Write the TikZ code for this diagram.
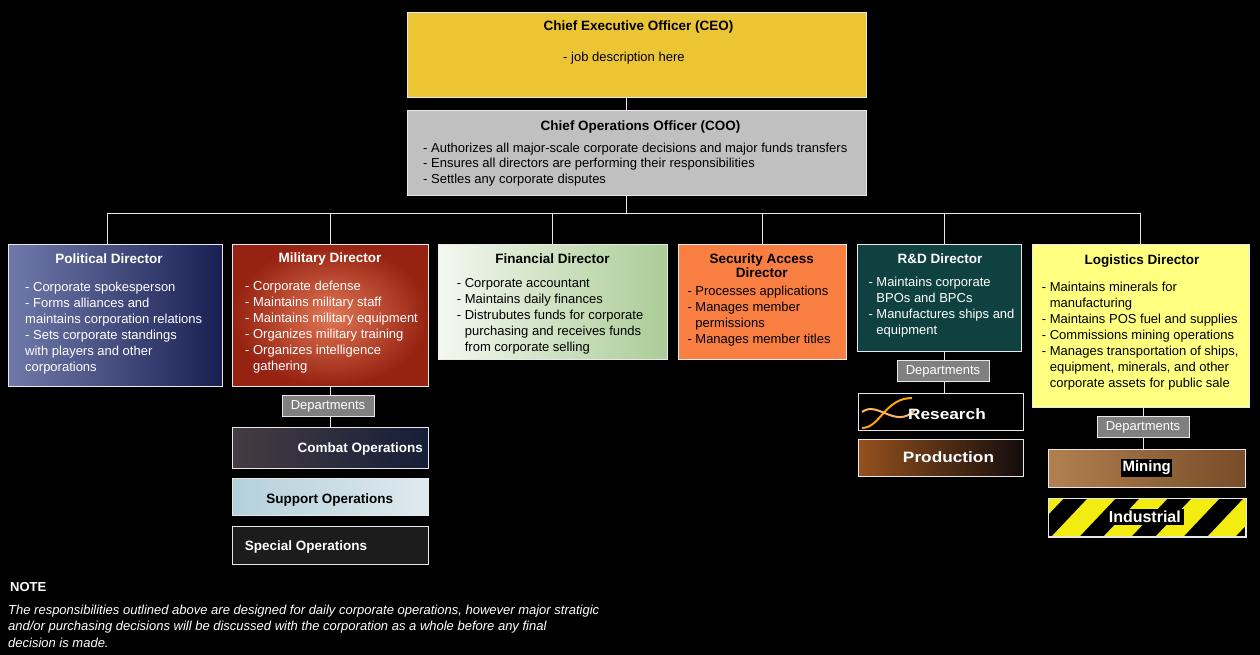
\documentclass[tikz,border=0pt]{standalone}
\usepackage{fontspec}
\setmainfont{Liberation Sans}
\definecolor{edge}{HTML}{E8E8E8}
\definecolor{ceoY}{HTML}{ECC535}
\definecolor{cooG}{HTML}{C0C0C0}
\definecolor{secO}{HTML}{F97E42}
\definecolor{rdT}{HTML}{0F4141}
\definecolor{logY}{HTML}{FFFF80}
\definecolor{deptG}{HTML}{808080}
\definecolor{stripeY}{HTML}{F2EC10}
\begin{document}
\begin{tikzpicture}[x=1pt,y=-1pt,
  box/.style={draw=edge, line width=1pt, inner sep=0pt, anchor=north west},
  ttl/.style={font=\fontsize{13.5}{15}\selectfont\bfseries, inner sep=0pt, anchor=base},
  body/.style={font=\fontsize{13}{16}\selectfont, align=left, anchor=north west, inner sep=0pt},
  wire/.style={draw=edge, line width=1pt},
  deptbox/.style={draw=edge, line width=1pt, fill=deptG, text=white, inner sep=0pt,
    font=\fontsize{13}{15}\selectfont, minimum width=92pt, minimum height=21pt},
  unitlbl/.style={font=\fontsize{13.5}{15}\selectfont\bfseries, inner sep=0pt, anchor=base},
  biglbl/.style={font=\fontsize{15}{17}\selectfont\bfseries, inner sep=0pt, anchor=base, text=white}]
\useasboundingbox (0,0) rectangle (1260,655);
\fill[black] (0,0) rectangle (1260,655);

% ---------- top boxes
\node[box, fill=ceoY, minimum width=459pt, minimum height=85pt] (ceo) at (407,12) {};
\node[box, fill=cooG, minimum width=459pt, minimum height=85pt] (coo) at (407,110) {};

% ---------- directors
\node[box, minimum width=214pt, minimum height=142pt, left color={rgb,255:red,112;green,122;blue,170}, middle color={rgb,255:red,60;green,70;blue,122}, right color={rgb,255:red,24;green,32;blue,82}] (pol) at (8,244) {};
\node[box, minimum width=196pt, minimum height=142pt, inner color={rgb,255:red,226;green,118;blue,84}, outer color={rgb,255:red,150;green,34;blue,18}] (mil) at (232,244) {};
\node[box, minimum width=229pt, minimum height=115pt, left color={rgb,255:red,244;green,248;blue,240}, middle color={rgb,255:red,228;green,238;blue,220}, right color={rgb,255:red,170;green,204;blue,150}] (fin) at (438,244) {};
\node[box, fill=secO, minimum width=168pt, minimum height=115pt] (sec) at (678,244) {};
\node[box, fill=rdT, minimum width=164pt, minimum height=107pt] (rd) at (857,244) {};
\node[box, fill=logY, minimum width=217pt, minimum height=163pt] (log) at (1032,244) {};

% ---------- departments
\node[deptbox] (mdep) at (328,406) {Departments};
\node[box, minimum width=196pt, minimum height=41pt, left color={rgb,255:red,70;green,60;blue,66}, right color={rgb,255:red,22;green,30;blue,56}] (combat) at (232,427) {};
\node[box, minimum width=196pt, minimum height=37pt, left color={rgb,255:red,180;green,208;blue,220}, right color={rgb,255:red,222;green,234;blue,238}] (support) at (232,478) {};
\node[box, minimum width=196pt, minimum height=38pt, fill={rgb,255:red,28;green,28;blue,28}] (special) at (232,526) {};

\node[deptbox] (rdep) at (943,371) {Departments};
\node[box, minimum width=165pt, minimum height=37pt, fill=black] (research) at (858,393) {};
\node[box, minimum width=165pt, minimum height=37pt, left color={rgb,255:red,150;green,80;blue,30}, middle color={rgb,255:red,26;green,16;blue,16}, right color={rgb,255:red,18;green,12;blue,12}] (production) at (858,439) {};

\node[deptbox] (ldep) at (1143,427) {Departments};
\node[box, minimum width=197pt, minimum height=38pt, left color={rgb,255:red,178;green,128;blue,80}, middle color={rgb,255:red,150;green,100;blue,56}, right color={rgb,255:red,120;green,76;blue,40}] (mining) at (1048,449) {};
\node[box, minimum width=197pt, minimum height=38pt, fill=black] (industrial) at (1048,498) {};
\begin{scope}
  \clip (industrial.south west) rectangle (industrial.north east);
  \foreach \i in {0,...,5} {
    \fill[stripeY] ({1000+\i*52},536) -- ++(28,0) -- ++(36,-38) -- ++(-28,0) -- cycle;
  }
\end{scope}
\draw[edge, line width=1pt] (industrial.south west) rectangle (industrial.north east);

% DNA hint in research
\draw[orange!70!yellow, line width=2pt] (862,428) .. controls (880,428) and (885,398) .. (912,398);
\draw[orange!60!white, line width=2pt] (862,412) .. controls (878,400) and (895,430) .. (915,410);

% ---------- connectors
\coordinate (bus) at (626,213);
\coordinate (tPol) at (107,213);
\coordinate (tMil) at (330,213);
\coordinate (tFin) at (552,213);
\coordinate (tSec) at (762,213);
\coordinate (tRd)  at (944,213);
\coordinate (tLog) at (1140,213);
\draw[wire] (ceo.south -| bus) -- (coo.north -| bus);
\draw[wire] (coo.south -| bus) -- (bus);
\draw[wire] (tPol) -- (tLog);
\draw[wire] (tPol) -- (tPol |- pol.north);
\draw[wire] (tMil) -- (tMil |- mil.north);
\draw[wire] (tFin) -- (tFin |- fin.north);
\draw[wire] (tSec) -- (tSec |- sec.north);
\draw[wire] (tRd) -- (tRd |- rd.north);
\draw[wire] (tLog) -- (tLog |- log.north);
\draw[wire] (mil.south) -- (mil.south |- mdep.north);
\draw[wire] (mil.south |- mdep.south) -- (combat.north);
\draw[wire] (rd.south -| tRd) -- (rdep.north -| tRd);
\draw[wire] (rdep.south -| tRd) -- (research.north -| tRd);
\draw[wire] (log.south -| ldep) -- (ldep.north);
\draw[wire] (ldep.south) -- (mining.north -| ldep);

% ---------- texts
\node[ttl] (ceoT) at (638.5,30.5) {Chief Executive Officer (CEO)};
\node[font=\fontsize{13}{15}\selectfont, inner sep=0pt, anchor=base west] (ceoB) at (563,62) {- job description here};

\node[ttl] (cooT) at (640.5,130.5) {Chief Operations Officer (COO)};
\node[body] (cooB) at (423,140.6) {\strut- Authorizes all major-scale corporate decisions and major funds transfers\\- Ensures all directors are performing their responsibilities\\- Settles any corporate disputes};

\node[ttl, text=white] (polT) at (109,263.8) {Political Director};
\node[body, text=white] (polB) at (25,280) {\strut- Corporate spokesperson\\- Forms alliances and\\maintains corporation relations\\- Sets corporate standings\\with players and other\\corporations};

\node[ttl, text=white] (milT) at (330,262.2) {Military Director};
\node[body, text=white] (milB) at (245,279) {\strut- Corporate defense\\- Maintains military staff\\- Maintains military equipment\\- Organizes military training\\- Organizes intelligence\\\phantom{- }gathering};

\node[ttl] (finT) at (552.5,263.5) {Financial Director};
\node[body] (finB) at (456.7,276) {\strut- Corporate accountant\\- Maintains daily finances\\- Distrubutes funds for corporate\\\phantom{- }purchasing and receives funds\\\phantom{- }from corporate selling};

\node[ttl] (secT1) at (761.7,263.5) {Security Access};
\node[ttl] (secT2) at (761.7,277.8) {Director};
\node[body] (secB) at (687.3,284) {\strut- Processes applications\\- Manages member\\\phantom{- }permissions\\- Manages member titles};

\node[ttl, text=white] (rdT) at (940,263.5) {R\&D Director};
\node[body, text=white] (rdB) at (868.3,275) {\strut- Maintains corporate\\\phantom{- }BPOs and BPCs\\- Manufactures ships and\\\phantom{- }equipment};

\node[ttl] (logT) at (1142,264.5) {Logistics Director};
\node[body] (logB) at (1041.7,280.3) {\strut- Maintains minerals for\\\phantom{- }manufacturing\\- Maintains POS fuel and supplies\\- Commissions mining operations\\- Manages transportation of ships,\\\phantom{- }equipment, minerals, and other\\\phantom{- }corporate assets for public sale};

\node[unitlbl, text=white] (combatL) at (360.2,452.5) {Combat Operations};
\node[unitlbl, text=black] (supportL) at (329.7,503.5) {Support Operations};
\node[unitlbl, text=white] (specialL) at (306,550) {Special Operations};

\node[biglbl] (researchL) at (947,419.5) {\scalebox{1.15}[1]{Research}};
\node[biglbl] (productionL) at (948.5,462) {\scalebox{1.15}[1]{Production}};
\node[font=\fontsize{15}{17}\selectfont\bfseries, fill=black, text=white, inner sep=1.5pt] (miningL) at (1146.7,468) {Mining};
\node[font=\fontsize{16}{18}\selectfont\bfseries, fill=black, text=white, inner xsep=3pt, inner ysep=2pt] (industrialL) at (1144.8,517) {Industrial};

% ---------- note
\node[font=\fontsize{13}{15}\selectfont\bfseries, text=white, inner sep=0pt, anchor=base west] (noteT) at (10,591.5) {NOTE};
\node[font=\fontsize{13}{16.5}\selectfont\itshape, text=white, align=left, anchor=north west, inner sep=0pt] (noteB) at (8,602.3) {\strut The responsibilities outlined above are designed for daily corporate operations, however major stratigic\\and/or purchasing decisions will be discussed with the corporation as a whole before any final\\decision is made.};
\end{tikzpicture}
\end{document}
